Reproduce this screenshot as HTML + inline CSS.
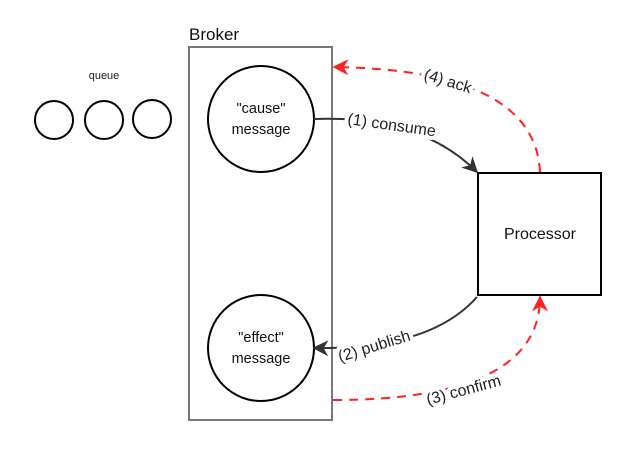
<!DOCTYPE html>
<html><head><meta charset="utf-8"><style>
body{margin:0;background:#fff}
svg{display:block;font-family:"Liberation Sans","DejaVu Sans",sans-serif}
</style></head><body>
<svg width="640" height="458" viewBox="0 0 640 458">
<defs>
<marker id="ab" viewBox="0 0 10 10" refX="9" refY="5" markerWidth="16" markerHeight="16" orient="auto" markerUnits="userSpaceOnUse"><path d="M0,0 L10,5 L0,10 L3,5 Z" fill="#333"/></marker>
<marker id="ar" viewBox="0 0 10 10" refX="9" refY="5" markerWidth="16" markerHeight="16" orient="auto" markerUnits="userSpaceOnUse"><path d="M0,0 L10,5 L0,10 L3,5 Z" fill="#f22"/></marker>
</defs>
<text x="104" y="79" font-size="11" text-anchor="middle" fill="#222">queue</text>
<g fill="none" stroke="#000" stroke-width="2">
<circle cx="54" cy="120" r="19"/><circle cx="104" cy="120" r="19"/><circle cx="152" cy="119" r="19"/>
</g>
<text x="189" y="40" font-size="17" fill="#111">Broker</text>
<rect x="189" y="47" width="143" height="373" fill="none" stroke="#777" stroke-width="2"/>
<circle cx="261" cy="119" r="53" fill="none" stroke="#000" stroke-width="2"/>
<text x="261" y="113" font-size="14.5" text-anchor="middle" fill="#111">"cause"</text>
<text x="261" y="134" font-size="14.5" text-anchor="middle" fill="#111">message</text>
<circle cx="261" cy="348" r="53" fill="none" stroke="#000" stroke-width="2"/>
<text x="261" y="342" font-size="14.5" text-anchor="middle" fill="#111">"effect"</text>
<text x="261" y="363" font-size="14.5" text-anchor="middle" fill="#111">message</text>
<rect x="478" y="173" width="123" height="122" fill="none" stroke="#000" stroke-width="2"/>
<text x="540" y="239" font-size="16" text-anchor="middle" fill="#111">Processor</text>
<path d="M314,119 Q420,115 477,172" fill="none" stroke="#333" stroke-width="2" marker-end="url(#ab)"/>
<path d="M540,172 Q535,70 334,67" fill="none" stroke="#f22" stroke-width="2" stroke-dasharray="9,7" marker-end="url(#ar)"/>
<path d="M477,297 Q430,350 314,348" fill="none" stroke="#333" stroke-width="2" marker-end="url(#ab)"/>
<path d="M333,400 Q540,400 540,297" fill="none" stroke="#f22" stroke-width="2" stroke-dasharray="9,7" marker-end="url(#ar)"/>
<g font-size="16" fill="#222" stroke="#fff" stroke-width="8" paint-order="stroke" stroke-linejoin="round">
<text transform="translate(347,124) rotate(8)">(1) consume</text>
<text transform="translate(423,79) rotate(17)">(4) ack</text>
<text transform="translate(340,362) rotate(-17)">(2) publish</text>
<text transform="translate(428,405) rotate(-15)">(3) confirm</text>
</g>
</svg>
</body></html>
